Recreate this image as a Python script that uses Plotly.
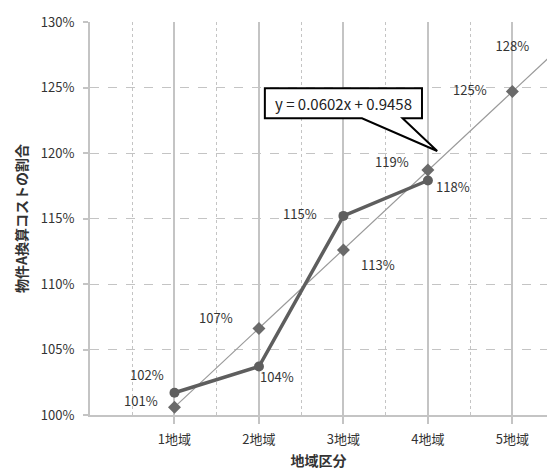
import plotly.graph_objects as go

# Regions (x positions 1..5) and their labels
regions = [1, 2, 3, 4, 5]
region_labels = ["1地域", "2地域", "3地域", "4地域", "5地域"]

# Measured cost ratio (thick line, circles) for regions 1-4
measured_x = [1, 2, 3, 4]
measured = [1.017, 1.037, 1.152, 1.179]

# Trend-based estimates (diamonds) for regions 1-5
estimate_x = [1, 2, 3, 4, 5]
estimate = [1.006, 1.066, 1.126, 1.187, 1.247]

# Extra projected label beyond region 5
projected_x = [5]
projected = [1.28]

# Linear trend y = slope*x + intercept
slope = 0.0602
intercept = 0.9458
trend_x = [1, 5.6]

y_ticks = [1.00, 1.05, 1.10, 1.15, 1.20, 1.25, 1.30]

FONT = "Noto Sans CJK JP"
TXT = "#333333"
LBL = 13

fig = go.Figure()

# trend line
fig.add_trace(go.Scatter(
    x=trend_x, y=[slope * v + intercept for v in trend_x],
    mode="lines", line=dict(color="#9a9a9a", width=1.2),
    hoverinfo="skip", showlegend=False))

# estimate diamonds
fig.add_trace(go.Scatter(
    x=estimate_x, y=estimate, mode="markers",
    marker=dict(symbol="diamond", size=10, color="#6a6a6a"),
    showlegend=False))

# measured line with circles
fig.add_trace(go.Scatter(
    x=measured_x, y=measured, mode="lines+markers",
    line=dict(color="#5e5e5e", width=3.5),
    marker=dict(symbol="circle", size=10, color="#5e5e5e"),
    showlegend=False))

# projected label (text only)
fig.add_trace(go.Scatter(
    x=projected_x, y=projected, mode="text",
    text=[f"{v:.0%}" for v in projected],
    textfont=dict(family=FONT, size=LBL, color=TXT),
    showlegend=False))

# data labels offset from their points (pixels)
measured_offsets = [(-27, 18), (18, -10), (-43, 2), (25, -6)]
estimate_offsets = [(-33, 7), (-43, 11), (35, -15), (-36, 9), (-42, 2)]

annotations = []
for xs, ys, offs in ((measured_x, measured, measured_offsets),
                     (estimate_x, estimate, estimate_offsets)):
    for xv, yv, (dx, dy) in zip(xs, ys, offs):
        annotations.append(dict(
            x=xv, y=yv, text=f"{yv:.0%}", showarrow=False,
            xshift=dx, yshift=dy,
            font=dict(family=FONT, size=LBL, color=TXT)))

# equation callout text
annotations.append(dict(
    x=3.0, y=1.238, text=f"y = {slope}x + {intercept}", showarrow=False,
    font=dict(family=FONT, size=15, color="#222222")))

fig.update_layout(
    width=547, height=473,
    margin=dict(l=90, r=0, t=22, b=58),
    paper_bgcolor="white", plot_bgcolor="white",
    annotations=annotations,
    shapes=[dict(
        type="path", xref="x", yref="y",
        path="M 2.07,1.2265 L 3.22,1.2265 L 4.11,1.2015 L 3.70,1.2265 "
             "L 3.93,1.2265 L 3.93,1.2495 L 2.07,1.2495 Z",
        line=dict(color="black", width=2), fillcolor="white", layer="above")],
    font=dict(family=FONT, color=TXT),
)

fig.update_xaxes(
    range=[0, 5.41], tickvals=regions, ticktext=region_labels,
    tickfont=dict(family=FONT, size=LBL, color=TXT),
    ticklabelstandoff=4,
    showgrid=True, gridcolor="#c4c4c4", gridwidth=1.5,
    minor=dict(dtick=0.5, tick0=0, showgrid=True, gridcolor="#c4c4c4",
               griddash="dot", gridwidth=1.2),
    ticks="outside", ticklen=7, tickcolor="#c4c4c4", tickwidth=1.5,
    showline=True, linecolor="#c4c4c4", linewidth=2,
    zeroline=False,
    title=dict(text="<b>地域区分</b>", font=dict(family=FONT, size=14, color=TXT),
               standoff=10))

fig.update_yaxes(
    range=[1.0, 1.3], tickvals=y_ticks, tickformat=".0%",
    tickfont=dict(family=FONT, size=LBL, color=TXT),
    ticklabelstandoff=6,
    showgrid=True, gridcolor="#c4c4c4", griddash="dash", gridwidth=1.2,
    ticks="outside", ticklen=5, tickcolor="#c4c4c4", tickwidth=1.5,
    showline=True, linecolor="#c4c4c4", linewidth=2,
    zeroline=False,
    title=dict(text="<b>物件A換算コストの割合</b>",
               font=dict(family=FONT, size=14, color=TXT), standoff=10))

fig.write_html("out.html")
